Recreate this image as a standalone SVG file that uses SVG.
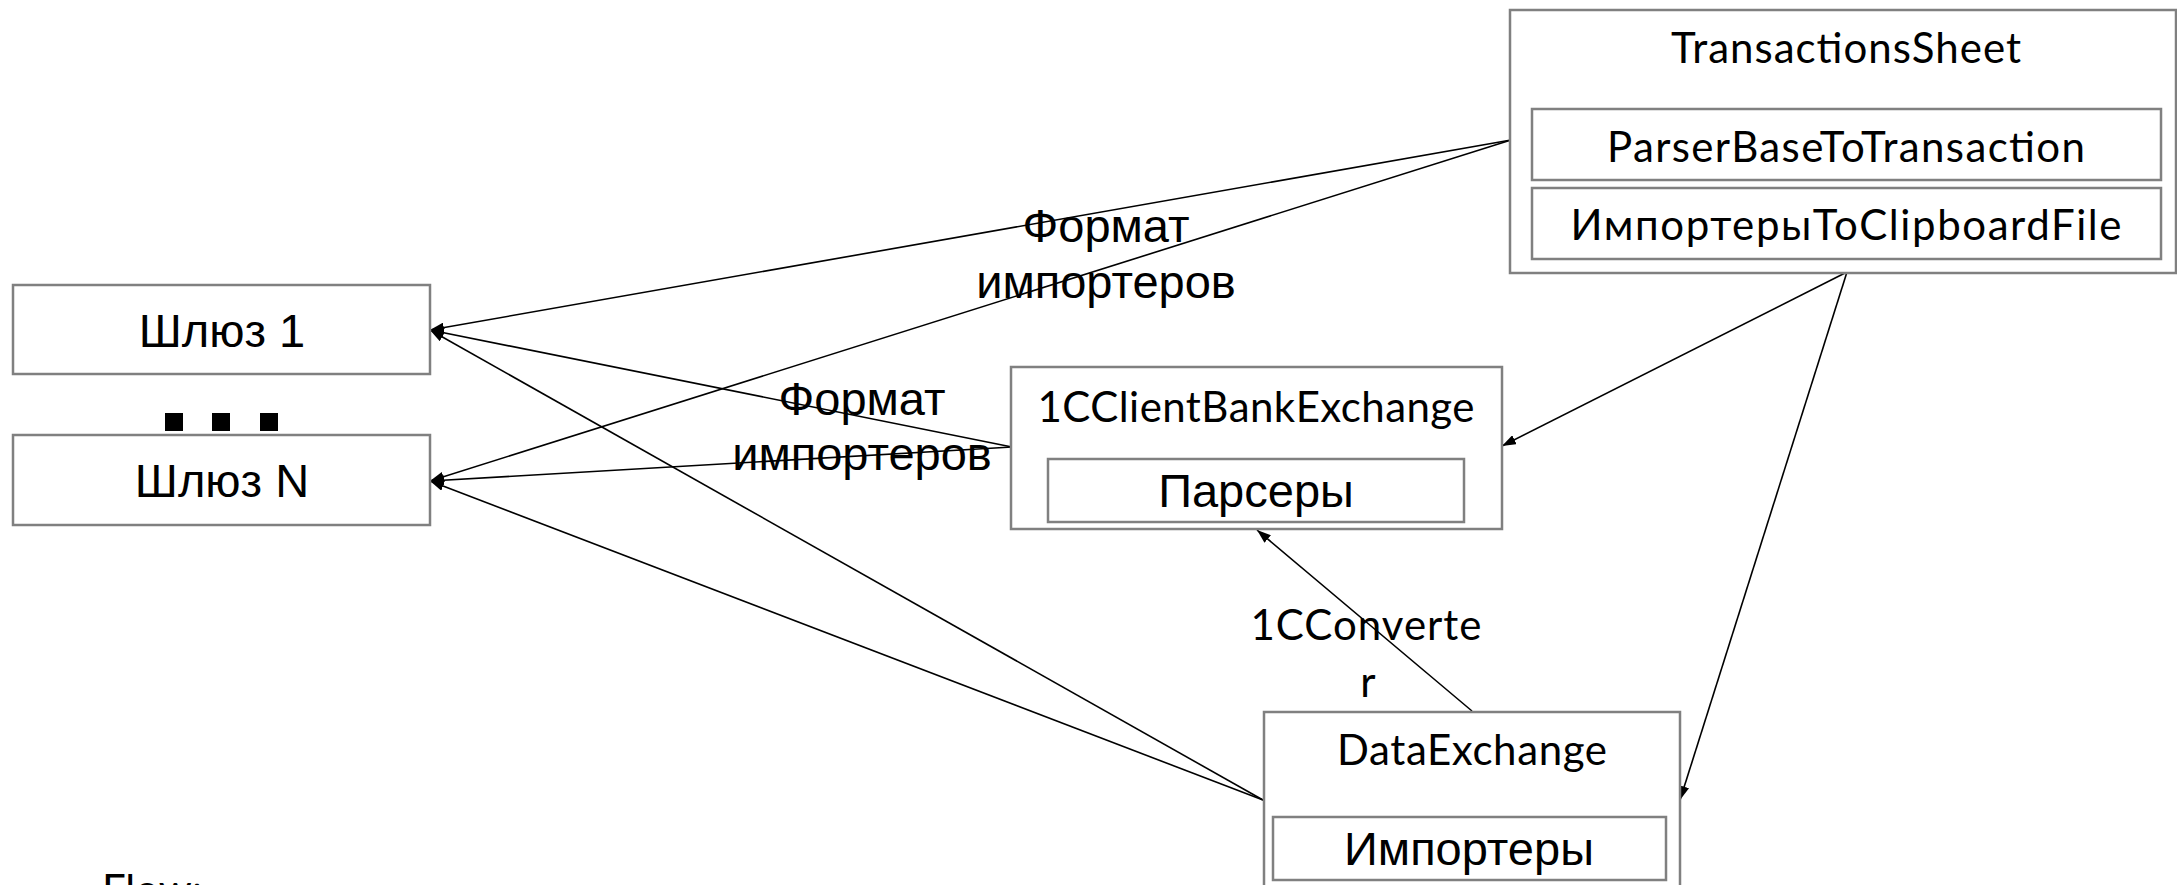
<svg xmlns="http://www.w3.org/2000/svg" width="2177" height="885" viewBox="0 0 2177 885">
<defs>
<marker id="arr" markerUnits="userSpaceOnUse" markerWidth="14" markerHeight="10" refX="14" refY="5" orient="auto">
<path d="M0,0 L14,5 L0,10 z" fill="#000"/>
</marker>
<style>
.box{fill:#fff;stroke:#808080;stroke-width:2.5}
.cal{font-family:Lato,"Open Sans",sans-serif;font-size:42px;fill:#000;text-anchor:middle}
.ar{font-family:"Liberation Sans",Arial,sans-serif;font-size:47px;fill:#000;text-anchor:middle}
.con{fill:none;stroke:#000;stroke-width:1.6;marker-end:url(#arr)}
</style>
</defs>
<rect width="2177" height="885" fill="#fff"/>
<g id="connectors">
<path class="con" d="M1511,140 L430,330"/>
<path class="con" d="M1511,140 L430,481"/>
<path class="con" d="M1012,447 L430,330"/>
<path class="con" d="M1012,447 L430,481"/>
<path class="con" d="M1263,800 L430,330"/>
<path class="con" d="M1263,800 L430,481"/>
<path class="con" d="M1847,272 L1502,446"/>
<path class="con" d="M1847,272 L1680,800"/>
<path class="con" d="M1472,711 L1257,530"/>
</g>
<g id="transactionsSheet">
<rect class="box" x="1510" y="10" width="666" height="263"/>
<text class="cal" x="1846" y="63" textLength="350">TransactionsSheet</text>
<rect class="box" x="1532" y="109" width="629" height="71"/>
<text class="cal" x="1846" y="162" textLength="478">ParserBaseToTransaction</text>
<rect class="box" x="1532" y="188" width="629" height="71"/>
<text class="cal" x="1846" y="240" textLength="551">ИмпортерыToClipboardFile</text>
</g>
<g id="gateway1">
<rect class="box" x="13" y="285" width="417" height="89"/>
<text class="ar" x="222" y="347">Шлюз 1</text>
</g>
<g id="dots">
<rect x="165" y="413" width="18" height="18" fill="#000"/>
<rect x="212" y="413" width="18" height="18" fill="#000"/>
<rect x="260" y="413" width="18" height="18" fill="#000"/>
</g>
<g id="gatewayN">
<rect class="box" x="13" y="435" width="417" height="90"/>
<text class="ar" x="222" y="497">Шлюз N</text>
</g>
<g id="clientBankExchange">
<rect class="box" x="1011" y="367" width="491" height="162"/>
<text class="cal" x="1256" y="422" textLength="437">1CClientBankExchange</text>
<rect class="box" x="1048" y="459" width="416" height="63"/>
<text class="ar" x="1256" y="507">Парсеры</text>
</g>
<g id="dataExchange">
<rect class="box" x="1264" y="712" width="416" height="190"/>
<text class="cal" x="1472" y="765" textLength="270">DataExchange</text>
<rect class="box" x="1273" y="817" width="393" height="63"/>
<text class="ar" x="1469" y="865">Импортеры</text>
</g>
<g id="labels">
<text class="ar" x="1106" y="242">Формат</text>
<text class="ar" x="1106" y="298">импортеров</text>
<text class="ar" x="862" y="415">Формат</text>
<text class="ar" x="862" y="470">импортеров</text>
<text class="cal" x="1366" y="640" textLength="231">1CConverte</text>
<text class="cal" x="1368" y="697">r</text>
<text class="cal" x="102" y="905" style="text-anchor:start">Flow:</text>
</g>
</svg>
